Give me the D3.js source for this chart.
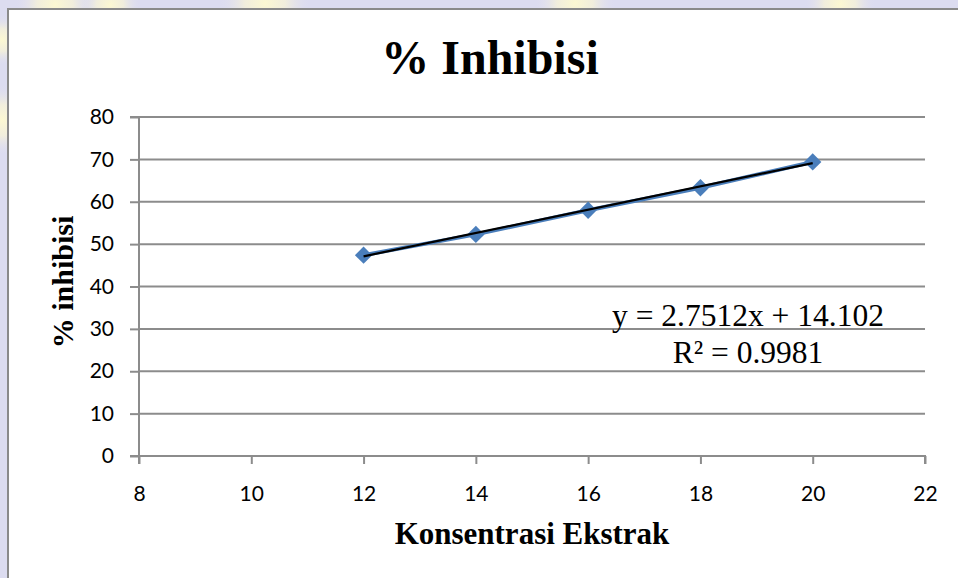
<!DOCTYPE html>
<html>
<head>
<meta charset="utf-8">
<script src="https://cdn.jsdelivr.net/npm/d3@7"></script>
<style>
  html, body { margin: 0; padding: 0; background: #dfdff0; }
  svg { display: block; }
</style>
</head>
<body>
<script>
// ---- data ----
const concentrations = [12, 14, 16, 18, 20];
const inhibition = [47.4, 52.3, 58.0, 63.3, 69.4];
const xTicks = [8, 10, 12, 14, 16, 18, 20, 22];
const yTicks = [0, 10, 20, 30, 40, 50, 60, 70, 80];
const slope = 2.7512;
const intercept = 14.102;
const equationLines = ["y = 2.7512x + 14.102", "R\u00B2 = 0.9981"];
const chartTitle = "% Inhibisi";
const xTitle = "Konsentrasi Ekstrak";
const yTitle = "% inhibisi";

const W = 958, H = 578;
const svg = d3.select("body").append("svg").attr("width", W).attr("height", H);

// background watermark-ish patches
const defs = svg.append("defs");
const grad = defs.append("radialGradient").attr("id", "yel");
grad.append("stop").attr("offset", "0%").attr("stop-color", "#fcf8d2");
grad.append("stop").attr("offset", "45%").attr("stop-color", "#f6f2d8").attr("stop-opacity", 0.8);
grad.append("stop").attr("offset", "100%").attr("stop-color", "#dfdff0").attr("stop-opacity", 0);
svg.append("rect").attr("width", W).attr("height", H).attr("fill", "#dcdcf0");
[[55, 5, 40], [110, 5, 30], [265, 3, 45], [575, 3, 40], [840, 4, 35], [2, 120, 35], [2, 40, 25]].forEach(([cx, cy, r]) => {
  svg.append("circle").attr("cx", cx).attr("cy", cy).attr("r", r).attr("fill", "url(#yel)");
});

// chart area
svg.append("rect").attr("x", 8).attr("y", 9).attr("width", W + 10).attr("height", H + 10)
  .attr("fill", "#ffffff").attr("stroke", "#8a8a8a").attr("stroke-width", 2);

const x = d3.scaleLinear().domain([8, 22]).range([139, 925]);
const y = d3.scaleLinear().domain([0, 80]).range([456, 117]);
const gridColor = "#8c8c8c";

// gridlines
svg.append("g").selectAll("line").data(yTicks.filter(d => d > 0)).join("line")
  .attr("x1", x(8)).attr("x2", x(22)).attr("y1", d => y(d)).attr("y2", d => y(d))
  .attr("stroke", gridColor).attr("stroke-width", 2);

// axes
const yAxis = svg.append("g").attr("transform", `translate(${x(8)},0)`)
  .call(d3.axisLeft(y).tickValues(yTicks).tickSize(9).tickPadding(16).tickFormat(d3.format("d")));
const xAxis = svg.append("g").attr("transform", `translate(0,${y(0)})`)
  .call(d3.axisBottom(x).tickValues(xTicks).tickSize(8).tickPadding(22).tickFormat(d3.format("d")));
[yAxis, xAxis].forEach(g => {
  g.select(".domain").attr("stroke", gridColor).attr("stroke-width", 2);
  g.selectAll(".tick line").attr("stroke", gridColor).attr("stroke-width", 2);
  g.selectAll(".tick text").attr("fill", "#000").attr("font-family", "Lato, 'Open Sans', sans-serif")
    .attr("font-size", 21);
});
xAxis.select(".domain").attr("d", `M${x(8)},8V0H${x(22)}V8`);
yAxis.select(".domain").attr("d", `M-9,${y(80)}H0V${y(0)}H-9`);

// series line
const line = d3.line().x((d, i) => x(concentrations[i])).y(d => y(d));
svg.append("path").datum(inhibition).attr("d", line)
  .attr("fill", "none").attr("stroke", "#4a7ebb").attr("stroke-width", 4);

// markers
svg.append("g").selectAll("path").data(inhibition).join("path")
  .attr("d", d3.symbol(d3.symbolSquare, 150))
  .attr("transform", (d, i) => `translate(${x(concentrations[i])},${y(d)}) rotate(45)`)
  .attr("fill", "#4a7ebb");

// trendline
const tx = [d3.min(concentrations), d3.max(concentrations)];
svg.append("line")
  .attr("x1", x(tx[0])).attr("y1", y(slope * tx[0] + intercept))
  .attr("x2", x(tx[1])).attr("y2", y(slope * tx[1] + intercept))
  .attr("stroke", "#000").attr("stroke-width", 2.2);

// equation
svg.append("g").selectAll("text").data(equationLines).join("text")
  .attr("x", 748).attr("y", (d, i) => 326 + i * 37)
  .attr("text-anchor", "middle").attr("font-family", "'Liberation Serif', 'Times New Roman', serif")
  .attr("font-size", 31.5).attr("fill", "#000").text(d => d);

// titles
svg.append("text").attr("x", 490).attr("y", 74).attr("text-anchor", "middle")
  .attr("font-family", "'Liberation Serif', 'Times New Roman', serif").attr("font-weight", "bold")
  .attr("font-size", 48).attr("fill", "#000").text(chartTitle);
svg.append("text").attr("x", 532).attr("y", 544).attr("text-anchor", "middle")
  .attr("font-family", "'Liberation Serif', 'Times New Roman', serif").attr("font-weight", "bold")
  .attr("font-size", 31).attr("fill", "#000").text(xTitle);
svg.append("text").attr("transform", "translate(73,282) rotate(-90)").attr("text-anchor", "middle")
  .attr("font-family", "'Liberation Serif', 'Times New Roman', serif").attr("font-weight", "bold")
  .attr("font-size", 30).attr("fill", "#000").text(yTitle);
</script>
</body>
</html>
